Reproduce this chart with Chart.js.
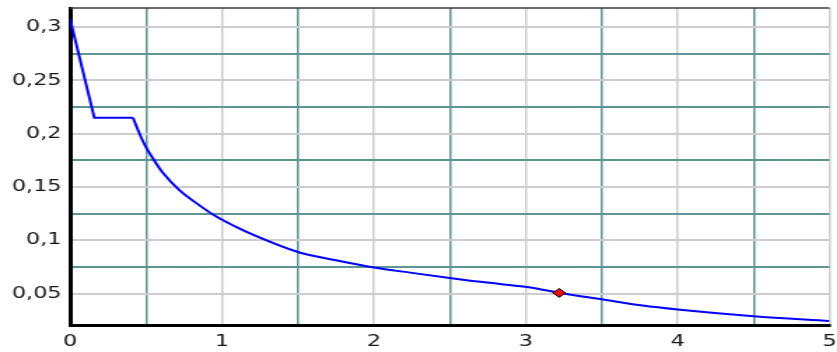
<!DOCTYPE html>
<html>
<head>
<meta charset="utf-8">
<script src="https://cdn.jsdelivr.net/npm/chart.js@4/dist/chart.umd.min.js"></script>
<style>
  html, body { margin: 0; padding: 0; background: #ffffff; overflow: hidden; }
  #wrap { width: 837px; height: 352px; overflow: hidden; }
  /* the plot is drawn narrow and widened, giving the broad glyphs of the axis labels */
  #spec { display: block; transform: scaleX(1.4); transform-origin: 0 0; }
</style>
</head>
<body>
<div id="wrap"><canvas id="spec" width="598" height="352"></canvas></div>
<script>
// Design response spectrum: period T (s) against spectral acceleration
const periods  = [0, 0.16, 0.415, 0.44, 0.47, 0.5, 0.545, 0.61, 0.72, 0.85, 0.96, 1.09, 1.2, 1.5, 1.75, 2.0, 2.25, 2.5, 2.61, 2.83, 3.02, 3.22, 3.33, 3.51, 3.77, 4.0, 4.5, 5.0];
const spectrum = [0.308, 0.215, 0.215, 0.206, 0.196, 0.1875, 0.177, 0.1635, 0.147, 0.133, 0.1225, 0.1128, 0.1055, 0.089, 0.0813, 0.0745, 0.0694, 0.0645, 0.0625, 0.059, 0.0559, 0.0507, 0.0481, 0.0444, 0.0387, 0.035, 0.0287, 0.0243];
// index where the plateau ends and the descending branch starts
const plateauEnd = 2;

// Marked design point
const markPeriod = [3.22];
const markValue  = [0.0506];

// Axis ticks and their labels
const xTicks      = [0, 0.5, 1, 1.5, 2, 2.5, 3, 3.5, 4, 4.5, 5];
const xTickLabels = ['0', '', '1', '', '2', '', '3', '', '4', '', '5'];
const yTicks      = [0.05, 0.075, 0.1, 0.125, 0.15, 0.175, 0.2, 0.225, 0.25, 0.275, 0.3];
const yTickLabels = ['0,05', '', '0,1', '', '0,15', '', '0,2', '', '0,25', '', '0,3'];

const MAJOR = '#cdcdcd';
const MINOR = '#5d9494';
const CURVE = '#0000ff';

const points = periods.map((x, i) => ({ x, y: spectrum[i] }));

function gridColour(labels) {
  return ctx => (labels[ctx.index] === '' ? MINOR : MAJOR);
}

const topFrame = {
  id: 'topFrame',
  afterDatasetsDraw(chart) {
    const { ctx, chartArea } = chart;
    ctx.save();
    ctx.strokeStyle = '#3a3a3a';
    ctx.lineWidth = 1.5;
    ctx.beginPath();
    ctx.moveTo(chartArea.left, chartArea.top);
    ctx.lineTo(chartArea.right, chartArea.top);
    ctx.stroke();
    ctx.restore();
  }
};

Chart.defaults.font.family = "'DejaVu Sans', Verdana, sans-serif";
Chart.defaults.font.size = 16;
Chart.defaults.color = '#151515';

new Chart(document.getElementById('spec'), {
  type: 'scatter',
  data: {
    datasets: [
      {
        data: markPeriod.map((x, i) => ({ x, y: markValue[i] })),
        pointStyle: 'rectRot',
        pointRadius: 4.5,
        pointBackgroundColor: '#ff0000',
        pointBorderColor: '#000000',
        pointBorderWidth: 1,
        showLine: false,
        order: 0
      },
      {
        // straight falling/constant branch
        data: points.slice(0, plateauEnd + 1),
        showLine: true,
        borderColor: CURVE,
        borderWidth: 2,
        pointRadius: 0,
        tension: 0,
        order: 1
      },
      {
        // smooth descending branch
        data: points.slice(plateauEnd),
        showLine: true,
        borderColor: CURVE,
        borderWidth: 2,
        pointRadius: 0,
        cubicInterpolationMode: 'monotone',
        order: 1
      }
    ]
  },
  options: {
    responsive: false,
    animation: false,
    devicePixelRatio: 1,
    layout: { padding: { top: 8, right: 1.6, left: 0, bottom: 0 } },
    plugins: { legend: { display: false }, tooltip: { enabled: false } },
    scales: {
      x: {
        type: 'linear',
        min: 0,
        max: 5,
        afterBuildTicks: s => { s.ticks = xTicks.map(v => ({ value: v })); },
        afterFit: s => { s.height = 26.5; s.paddingLeft = 0; s.paddingRight = 0; },
        ticks: {
          autoSkip: false,
          maxRotation: 0,
          padding: 7,
          callback: (v, i) => xTickLabels[i]
        },
        grid: {
          drawTicks: false,
          color: gridColour(xTickLabels),
          lineWidth: 1.5
        },
        border: { display: true, color: '#000000', width: 3 }
      },
      y: {
        type: 'linear',
        min: 0.02,
        max: 0.318,
        afterBuildTicks: s => { s.ticks = yTicks.map(v => ({ value: v })); },
        afterFit: s => { s.width = 50; s.paddingTop = 0; s.paddingBottom = 0; },
        ticks: {
          autoSkip: false,
          padding: 6,
          callback: (v, i) => yTickLabels[i]
        },
        grid: {
          drawTicks: false,
          color: gridColour(yTickLabels),
          lineWidth: 2
        },
        border: { display: true, color: '#000000', width: 3 }
      }
    }
  },
  plugins: [topFrame]
});
</script>
</body>
</html>
